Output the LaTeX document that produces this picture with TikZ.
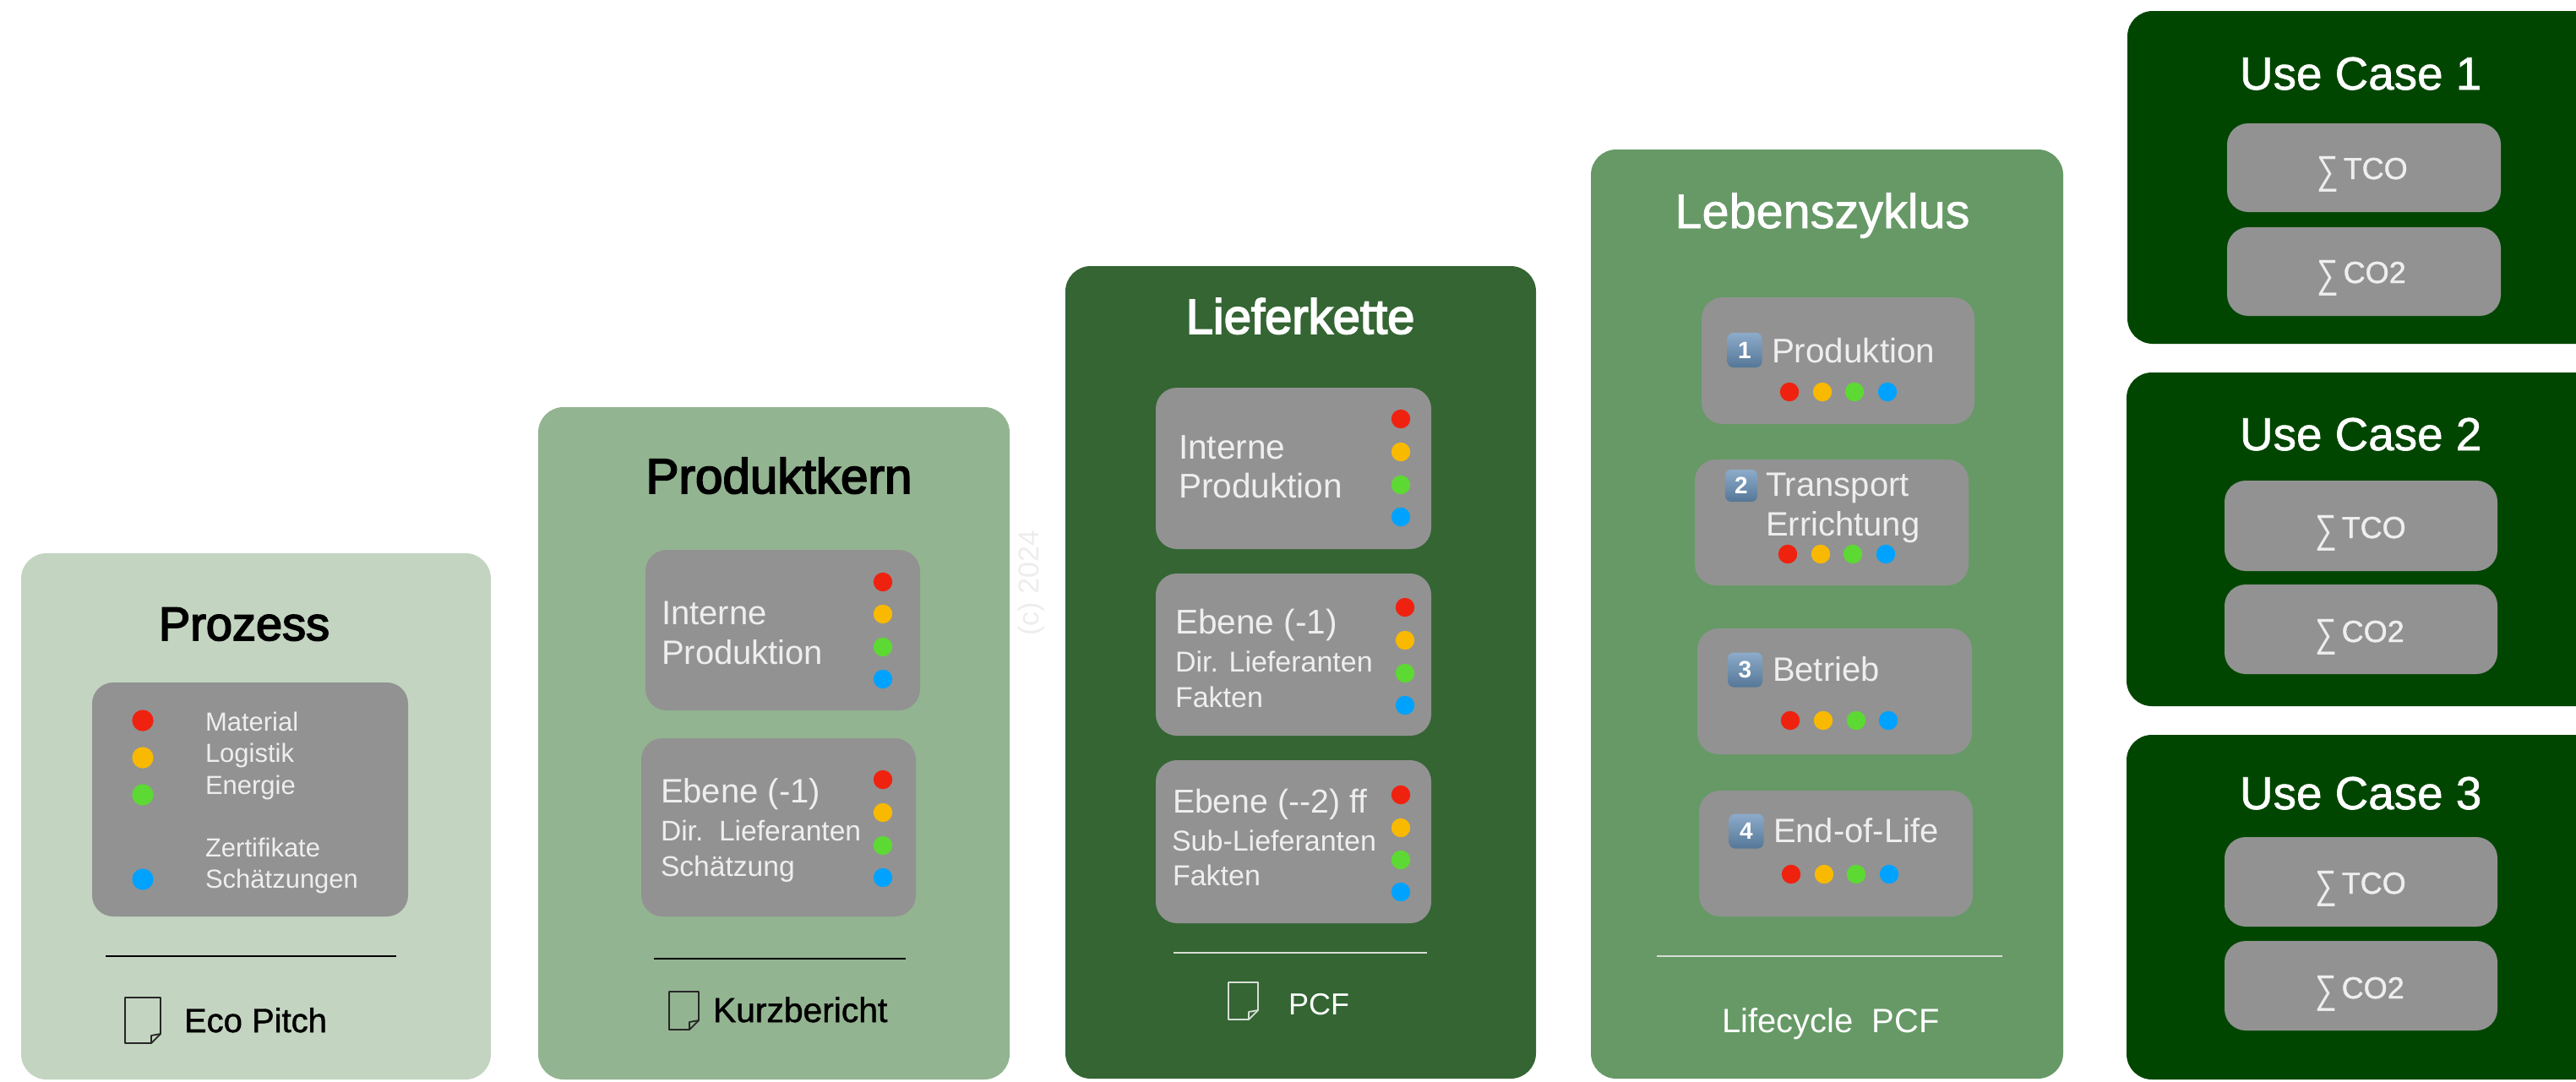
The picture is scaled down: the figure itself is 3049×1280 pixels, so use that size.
\documentclass[tikz,border=0pt]{standalone}
\usepackage{fontspec}
\usepackage{graphicx}
\setmainfont{Liberation Sans}
\newfontfamily\medfont[FakeBold=3]{Liberation Sans}
\newfontfamily\semfont[FakeBold=1.2]{Liberation Sans}
\newcommand\fs[1]{\fontsize{#1}{#1}\selectfont}
\newcommand\sumsign{\raisebox{-2.5pt}{\fs{18}\scalebox{1}[1.3]{∑}}\hspace{3pt}}
\definecolor{cardA}{HTML}{C3D5C1}
\definecolor{cardB}{HTML}{93B491}
\definecolor{cardC}{HTML}{346533}
\definecolor{cardD}{HTML}{669966}
\definecolor{cardE}{HTML}{004600}
\definecolor{inner}{HTML}{929292}
\definecolor{softw}{HTML}{EEEEEE}
\definecolor{dotR}{HTML}{EF2210}
\definecolor{dotO}{HTML}{F9B900}
\definecolor{dotG}{HTML}{5DD933}
\definecolor{dotB}{HTML}{00A2FF}
\definecolor{ruleL}{HTML}{D6DED4}
\definecolor{keyT}{HTML}{8DABCB}
\definecolor{keyB}{HTML}{557797}
\tikzset{
  lab/.style={anchor=base west,inner sep=0pt,outer sep=0pt},
  labc/.style={anchor=base,inner sep=0pt,outer sep=0pt},
  soft/.style={text=softw},
  white/.style={text=white},
  panel/.style={rounded corners=15pt},
  graybox/.style={fill=inner,rounded corners=12.5pt},
  rulerule/.style={line width=1.2pt},
  docicon/.style={line width=0.9pt,line join=round},
  keycap/.style={rounded corners=3.5pt,top color=keyT,bottom color=keyB,text=white,inner sep=0pt,minimum size=20.5pt,font=\bfseries\fs{14}},
}
\newcommand\dotsV[6]{%
  \fill[dotR] (#1,#2) circle[radius=#6];
  \fill[dotO] (#1,#3) circle[radius=#6];
  \fill[dotG] (#1,#4) circle[radius=#6];
  \fill[dotB] (#1,#5) circle[radius=#6];}
\newcommand\dotsH[5]{%
  \fill[dotR] (#1,#5) circle[radius=5.6pt];
  \fill[dotO] (#2,#5) circle[radius=5.6pt];
  \fill[dotG] (#3,#5) circle[radius=5.6pt];
  \fill[dotB] (#4,#5) circle[radius=5.6pt];}
\newcommand\docico[5]{%
  \draw[docicon,#5] (#1,#2) -- (#3,#2) -- (#3,#4-11) -- (#3-11,#4) -- (#1,#4) -- cycle;
  \draw[docicon,#5] (#3,#4-11) -- (#3-11,#4-9) -- (#3-11,#4);}
\begin{document}
\begin{tikzpicture}[x=0.5pt,y=-0.5pt]
\useasboundingbox (0,0) rectangle (3049,1280);
\clip (0,0) rectangle (3049,1280);

% ---- Prozess
\fill[panel,cardA] (25,655) rectangle (581,1278);
\node[labc] (t1) at (289,758) {\medfont\fs{28}Prozess};
\fill[graybox] (109,808) rectangle (483,1085);
\dotsV{169}{853}{897}{941}{1041}{6.3pt}
\node[lab,soft] (a1) at (243,865) {\fs{15.5}Material};
\node[lab,soft] (a2) at (243,902) {\fs{15.5}Logistik};
\node[lab,soft] (a3) at (243,940) {\fs{15.5}Energie};
\node[lab,soft] (a4) at (243,1014) {\fs{15.5}Zertifikate};
\node[lab,soft] (a5) at (243,1051) {\fs{15.5}Schätzungen};
\draw[rulerule,black] (125,1132) -- (469,1132);
\docico{148}{1181}{190}{1235}{black!85}
\node[lab] (a6) at (218,1222) {\semfont\fs{20}Eco Pitch};

% ---- Produktkern
\fill[panel,cardB] (637,482) rectangle (1195,1278);
\node[labc] (t2) at (922,584) {\medfont\fs{29.2}Produktkern};
\fill[graybox] (764,651) rectangle (1089,841);
\dotsV{1045}{689}{727}{766}{804}{5.6pt}
\node[lab,soft] (b1) at (783,739) {\fs{20}Interne};
\node[lab,soft] (b2) at (783,786) {\fs{20}Produktion};
\fill[graybox] (759,874) rectangle (1084,1085);
\dotsV{1045}{923}{962}{1001}{1039}{5.6pt}
\node[lab,soft] (b3) at (782,950) {\fs{20}Ebene (-1)};
\node[lab,soft] (b4) at (782,995) {\fs{16.8}Dir.~~Lieferanten};
\node[lab,soft] (b5) at (782,1037) {\fs{16.8}Schätzung};
\draw[rulerule,black] (774,1135) -- (1072,1135);
\docico{792}{1174}{827}{1219}{black!85}
\node[lab] (b6) at (844,1210) {\semfont\fs{20.4}Kurzbericht};

% ---- watermark
\node[anchor=center,rotate=90,text=black!7,inner sep=0pt] (wm) at (1221,690) {\fs{17}(c) 2024};

% ---- Lieferkette
\fill[panel,cardC] (1261,315) rectangle (1818,1277);
\node[labc,white] (t3) at (1539,395) {\medfont\fs{29}Lieferkette};
\fill[graybox] (1368,459) rectangle (1694,650);
\dotsV{1658}{496}{535}{574}{612}{5.6pt}
\node[lab,soft] (c1) at (1395,543) {\fs{20.3}Interne};
\node[lab,soft] (c2) at (1395,589) {\fs{20.3}Produktion};
\fill[graybox] (1368,679) rectangle (1694,871);
\dotsV{1663}{719}{758}{797}{835}{5.6pt}
\node[lab,soft] (c3) at (1391,750) {\fs{20.3}Ebene (-1)};
\node[lab,soft] (c4) at (1391,795) {\fs{17}Dir. Lieferanten};
\node[lab,soft] (c5) at (1391,837) {\fs{17}Fakten};
\fill[graybox] (1368,900) rectangle (1694,1093);
\dotsV{1658}{941}{980}{1018}{1056}{5.6pt}
\node[lab,soft] (c6) at (1388,962) {\fs{19.6}Ebene (-{}-2) ff};
\node[lab,soft] (c7) at (1387,1007) {\fs{17}Sub-Lieferanten};
\node[lab,soft] (c8) at (1388,1048) {\fs{17}Fakten};
\draw[rulerule,ruleL] (1389,1128) -- (1689,1128);
\docico{1454}{1163}{1489}{1207}{ruleL}
\node[lab,white] (c9) at (1525,1201) {\fs{18}PCF};

% ---- Lebenszyklus
\fill[panel,cardD] (1883,177) rectangle (2442,1277);
\node[labc,white] (t4) at (2157,270) {\semfont\fs{28.8}Lebenszyklus};
\fill[graybox] (2014,352) rectangle (2337,502);
\node[keycap] (k1) at (2065,414.5) {1};
\node[lab,soft] (d1) at (2097,429) {\fs{20.2}Produktion};
\dotsH{2118}{2157}{2195}{2234}{464}
\fill[graybox] (2006,544) rectangle (2330,693);
\node[keycap,minimum size=19pt] (k2) at (2061,575) {2};
\node[lab,soft] (d2) at (2090,587) {\fs{20}Transport};
\node[lab,soft] (d3) at (2090,634) {\fs{20}Errichtung};
\dotsH{2116}{2155}{2193}{2232}{656}
\fill[graybox] (2009,744) rectangle (2334,893);
\node[keycap] (k3) at (2065.5,793) {3};
\node[lab,soft] (d4) at (2098,806) {\fs{20}Betrieb};
\dotsH{2119}{2158}{2197}{2235}{853}
\fill[graybox] (2011,936) rectangle (2335,1085);
\node[keycap] (k4) at (2067,984) {4};
\node[lab,soft] (d5) at (2099,997) {\fs{20}End-of-Life};
\dotsH{2120}{2159}{2197}{2236}{1035}
\draw[rulerule,ruleL] (1961,1132) -- (2370,1132);
\node[lab,white] (d6) at (2038,1222) {\fs{20}Lifecycle~~PCF};

% ---- Use Case 1
\fill[panel,cardE] (2518,13) rectangle (3120,407);
\node[lab,white] (e1) at (2651,106) {\semfont\fs{27.4}Use Case 1};
\fill[graybox] (2636,146) rectangle (2960,251);
\node[lab,soft] (e2) at (2742,212) {\sumsign\semfont\fs{18}TCO};
\fill[graybox] (2636,269) rectangle (2960,374);
\node[lab,soft] (e3) at (2742,335) {\sumsign\semfont\fs{18}CO2};

% ---- Use Case 2
\fill[panel,cardE] (2517,441) rectangle (3120,836);
\node[lab,white] (f1) at (2651,533) {\semfont\fs{27.4}Use Case 2};
\fill[graybox] (2633,569) rectangle (2956,676);
\node[lab,soft] (f2) at (2740,637) {\sumsign\semfont\fs{18}TCO};
\fill[graybox] (2633,692) rectangle (2956,798);
\node[lab,soft] (f3) at (2740,760) {\sumsign\semfont\fs{18}CO2};

% ---- Use Case 3
\fill[panel,cardE] (2517,870) rectangle (3120,1278);
\node[lab,white] (g1) at (2651,958) {\semfont\fs{27.4}Use Case 3};
\fill[graybox] (2633,991) rectangle (2956,1097);
\node[lab,soft] (g2) at (2740,1058) {\sumsign\semfont\fs{18}TCO};
\fill[graybox] (2633,1114) rectangle (2956,1220);
\node[lab,soft] (g3) at (2740,1182) {\sumsign\semfont\fs{18}CO2};
\end{tikzpicture}
\end{document}
